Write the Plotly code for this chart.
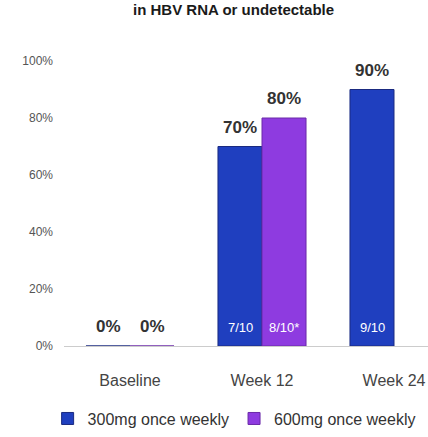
import plotly.graph_objects as go

categories = ["Baseline", "Week 12", "Week 24"]
series_names = ["300mg once weekly", "600mg once weekly"]
values_300 = [0, 70, 90]
values_600 = [0, 80, None]
fractions_300 = ["", "7/10", "9/10"]
fractions_600 = ["", "8/10*", ""]
y_ticks = [0, 20, 40, 60, 80, 100]
y_tick_labels = ["0%", "20%", "40%", "60%", "80%", "100%"]
title_text = "in HBV RNA or undetectable"

BLUE = "#1f3fbf"
PURPLE = "#8e3be0"
FONT = "Liberation Sans, Arial, sans-serif"

W, H = 428, 437
L, R, T, B = 64, 0, 61, 91
plot_h = H - T - B
plot_w = W - L - R
cat_px = 132
BAR_SHIFT = 22

def pct(v):
    return "" if v is None else f"{v}%"

fig = go.Figure()
for name, vals, col, edge in [(series_names[0], values_300, BLUE, "#1a2a80"),
                              (series_names[1], values_600, PURPLE, "#6a2aa8")]:
    fig.add_trace(go.Bar(
        x=categories, y=vals, name=name,
        marker=dict(color=col, line=dict(color=edge, width=1)),
    ))

# value labels above bars
for vals, shift in [(values_300, -BAR_SHIFT), (values_600, BAR_SHIFT)]:
    for c, v in zip(categories, vals):
        if v is not None:
            fig.add_annotation(x=c, y=v, text=f"<b>{pct(v)}</b>", showarrow=False, xshift=shift,
                               yanchor="bottom", yshift=8,
                               font=dict(family=FONT, size=17, color="#333333"))

# fraction labels inside bar bottoms
for fr, shift in [(fractions_300, -BAR_SHIFT), (fractions_600, BAR_SHIFT)]:
    for c, t in zip(categories, fr):
        if t:
            fig.add_annotation(x=c, y=0, text=t, showarrow=False, xshift=shift,
                               yanchor="bottom", yshift=9,
                               font=dict(family=FONT, size=13, color="white"))

fig.add_annotation(xref="paper", yref="paper", x=(233 - L) / plot_w, y=(H - B - 9) / plot_h,
                   text=f"<b>{title_text}</b>", showarrow=False, xanchor="center", yanchor="middle",
                   font=dict(family=FONT, size=15, color="#1a1a1a"))

fig.update_layout(
    width=W, height=H, margin=dict(l=L, r=R, t=T, b=B),
    paper_bgcolor="white", plot_bgcolor="white",
    barmode="group", bargap=0.333, bargroupgap=0,
    font=dict(family=FONT),
    showlegend=True,
    legend=dict(orientation="h", x=-0.045, xanchor="left", y=-0.195, yanchor="top",
                font=dict(family=FONT, size=16, color="#333333"),
                tracegroupgap=0),
)
fig.update_xaxes(showline=True, linecolor="#cccccc", linewidth=1, showgrid=False,
                 range=[-0.5, -0.5 + plot_w / cat_px],
                 ticks="", ticklabelstandoff=20,
                 tickfont=dict(family=FONT, size=16, color="#444444"))
fig.update_yaxes(range=[0, 100], showgrid=False, zeroline=False, showline=False,
                 tickvals=y_ticks, ticktext=y_tick_labels, ticks="", ticklabelstandoff=10,
                 tickfont=dict(family=FONT, size=12, color="#555555"))

fig.write_html("out.html")
